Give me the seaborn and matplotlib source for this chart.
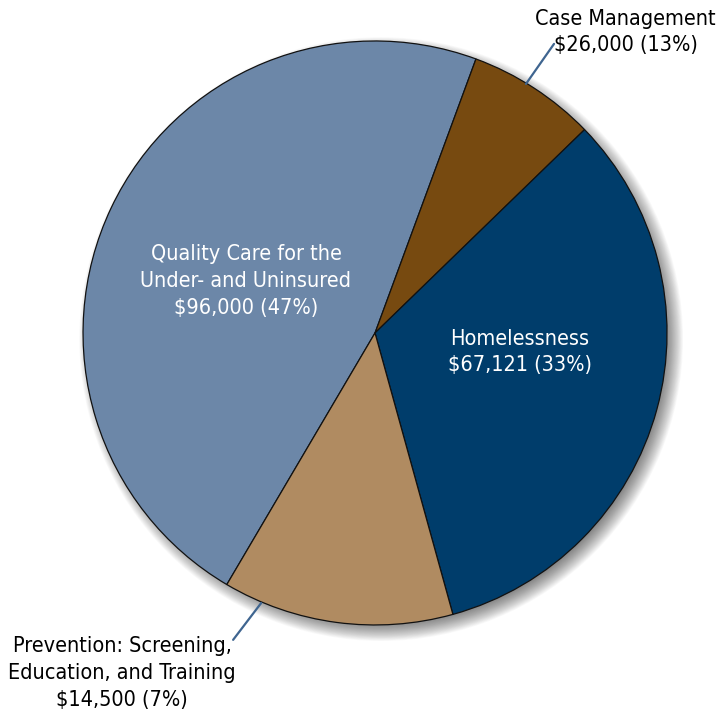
import numpy as np
import pandas as pd
import matplotlib
matplotlib.use("Agg")
import matplotlib.pyplot as plt
import seaborn as sns
from matplotlib import font_manager
from matplotlib.patches import Circle

# ---------------------------------------------------------------
# data
# ---------------------------------------------------------------
# slices as drawn, clockwise from the lower left boundary
slice_names = ["Quality Care for the\nUnder- and Uninsured", "Case Management",
               "Homelessness", "Prevention: Screening,\nEducation, and Training"]
slice_sizes = [96000, 14500, 67121, 26000]          # wedge sizes as drawn
label_amounts = [96000, 26000, 67121, 14500]        # amounts printed in the labels
slice_colors = ["#6C87A8", "#774A10", "#003D6B", "#B08B61"]

total = sum(label_amounts)
label_texts = [f"{n}\n${a:,} ({a / total * 100:.0f}%)"
               for n, a in zip(slice_names, label_amounts)]

# ---------------------------------------------------------------
# style
# ---------------------------------------------------------------
sns.set_theme(style="white")
condensed = any(f.name == "DejaVu Sans" and f.stretch == "condensed"
                for f in font_manager.fontManager.ttflist)
if condensed:
    plt.rcParams["font.family"] = ["DejaVu Sans"]
    plt.rcParams["font.stretch"] = "condensed"
    fs = 15.5
else:
    plt.rcParams["font.family"] = ["Roboto", "DejaVu Sans"]
    fs = 14.5
ls = 1.42

fig = plt.figure(figsize=(7.27, 7.11), dpi=100)
ax = fig.add_axes([0.1142, 0.121, 0.8033, 0.8214])

# soft drop shadow, offset to the lower right
for r in np.linspace(0.96, 1.034, 30):
    ax.add_patch(Circle((0.021, -0.021), r, color="black", alpha=0.022,
                        lw=0, zorder=0, clip_on=False))

wedges, _ = ax.pie(slice_sizes, colors=slice_colors, startangle=239.5,
                   counterclock=False,
                   wedgeprops=dict(edgecolor="#111111", linewidth=0.9))
for w in wedges:
    w.set_zorder(2)

ax.set_xlim(-1, 1)
ax.set_ylim(-1, 1)
ax.set_aspect("equal")
ax.axis("off")

# labels inside the pie
ax.text(-0.442, 0.178, label_texts[0], color="white", fontsize=fs,
        ha="center", va="center", linespacing=ls, zorder=5)
ax.text(0.497, -0.065, label_texts[2], color="white", fontsize=fs,
        ha="center", va="center", linespacing=ls, zorder=5)
# labels outside with leader lines
ax.text(1.168, 1.031, label_texts[1], color="black", fontsize=fs,
        ha="right", va="center", multialignment="center", linespacing=ls,
        zorder=5, clip_on=False)
ax.text(-0.866, -1.164, label_texts[3], color="black", fontsize=fs,
        ha="center", va="center", linespacing=ls, zorder=5, clip_on=False)
ax.plot([0.517, 0.613], [0.853, 0.990], color="#3F6590", lw=1.6,
        clip_on=False, zorder=5)
ax.plot([-0.390, -0.486], [-0.925, -1.051], color="#3F6590", lw=1.6,
        clip_on=False, zorder=5)

fig.savefig("out.png", dpi=100)
